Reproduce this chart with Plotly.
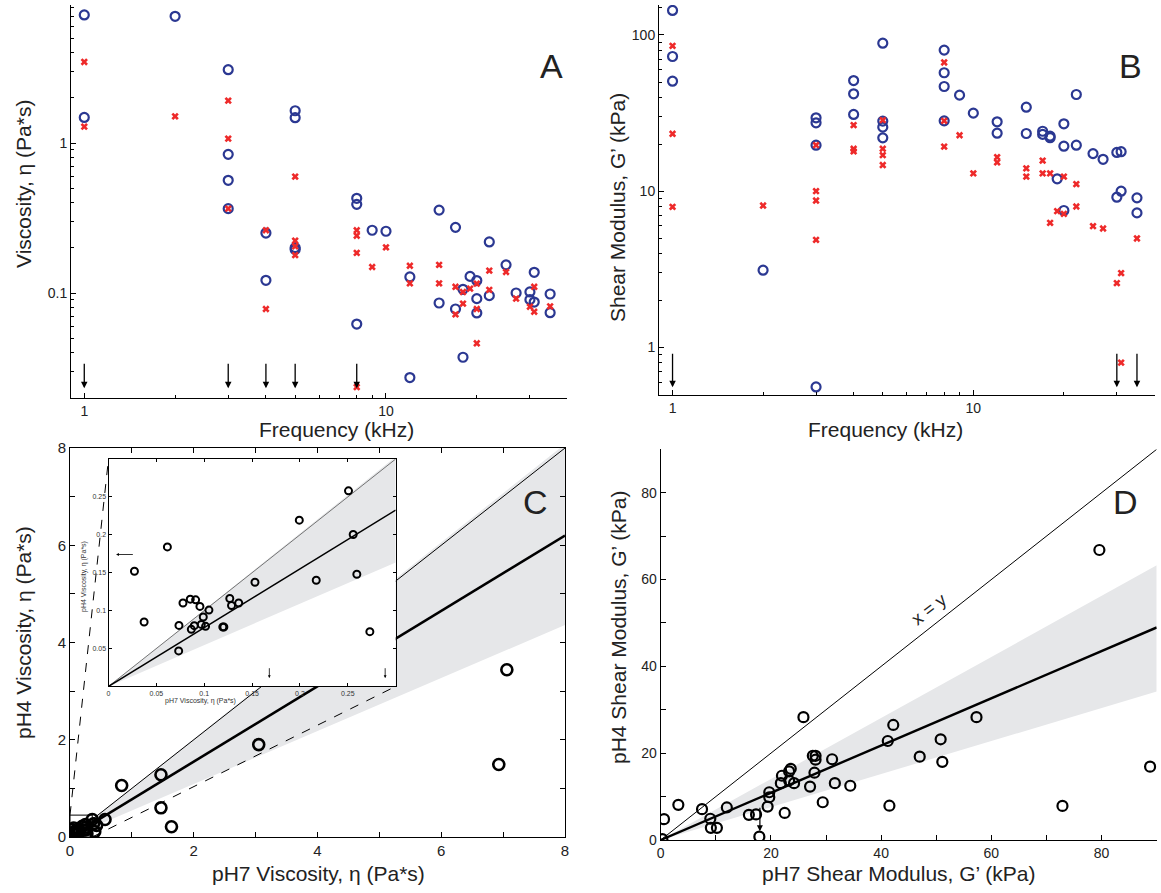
import numpy as np
import plotly.graph_objects as go

# ---------------- Panel A : viscosity vs frequency ----------------
freqA_ph7 = [1, 1, 2, 3, 3, 3, 3, 4, 4, 5, 5, 5, 5, 8, 8, 8, 9, 10, 12, 12, 15, 15, 17, 17, 18, 18, 19,
             20, 20, 20, 22, 22, 25, 27, 30, 30, 31, 31, 35, 35]
viscA_ph7 = [7.14, 1.48, 6.99, 3.08, 0.84, 0.564, 0.365, 0.251, 0.1215, 1.64, 1.475, 0.2005, 0.195,
             0.428, 0.39, 0.0621, 0.262, 0.258, 0.128, 0.0273, 0.357, 0.0858, 0.274, 0.0782, 0.1058,
             0.0373, 0.129, 0.121, 0.0917, 0.0736, 0.219, 0.096, 0.154, 0.1, 0.1016, 0.0903, 0.1374,
             0.087, 0.0985, 0.0739]
freqA_ph4 = [1, 1, 2, 3, 3, 3, 4, 4, 5, 5, 5, 5, 8, 8, 8, 8, 9, 10, 12, 12, 15, 15, 17, 17, 18, 18, 19,
             20, 20, 20, 22, 22, 25, 27, 30, 31, 31, 35]
viscA_ph4 = [3.47, 1.285, 1.506, 1.915, 1.069, 0.365, 0.262, 0.0782, 0.597, 0.2234, 0.2048, 0.179,
             0.262, 0.241, 0.185, 0.0236, 0.149, 0.2015, 0.152, 0.116, 0.154, 0.116, 0.110, 0.0721,
             0.1016, 0.085, 0.107, 0.1154, 0.0782, 0.0462, 0.141, 0.105, 0.138, 0.0917, 0.081, 0.110,
             0.075, 0.0815]
arrowA_freq = [1, 3, 4, 5, 8]

# ---------------- Panel B : shear modulus vs frequency ----------------
freqB_ph7 = [1, 1, 1, 2, 3, 3, 3, 3, 4, 4, 4, 5, 5, 5, 5, 8, 8, 8, 8, 9, 10, 12, 12, 15, 15, 17, 17,
             18, 18, 19, 20, 20, 20, 22, 22, 25, 27, 30, 30, 31, 31, 35, 35]
gB_ph7 = [143.6, 72.8, 50.6, 3.12, 29.5, 27.4, 19.7, 0.558, 51.1, 42.0, 31.0, 88.6, 28.1, 25.7, 21.95,
          80.0, 57.3, 46.8, 28.2, 41.2, 31.6, 27.8, 23.5, 34.5, 23.4, 24.2, 23.1, 22.5, 22.0, 12.0,
          27.0, 19.4, 7.52, 41.6, 19.7, 17.4, 16.0, 17.7, 9.15, 17.9, 10.0, 9.06, 7.26]
freqB_ph4 = [1, 1, 1, 2, 3, 3, 3, 3, 4, 4, 4, 5, 5, 5, 5, 8, 8, 8, 9, 10, 12, 12, 15, 15, 17, 17, 18,
             18, 19, 20, 20, 22, 22, 25, 27, 30, 31, 31, 35]
gB_ph4 = [85.2, 23.3, 7.94, 8.09, 19.7, 10.0, 8.71, 4.88, 26.5, 18.7, 18.0, 28.5, 18.7, 17.0, 14.7,
          66.7, 28.2, 19.3, 22.8, 13.0, 16.5, 15.3, 14.0, 12.4, 15.7, 13.0, 13.0, 6.27, 7.45, 12.4,
          7.16, 11.1, 7.98, 5.97, 5.77, 2.58, 2.99, 0.798, 4.98]
arrowB_freq = [1, 30, 35]

# ---------------- Panel C : pH4 vs pH7 viscosity ----------------
inset_ph7 = [0.2507, 0.1993, 0.2556, 0.2594, 0.273, 0.217, 0.153, 0.0615, 0.0271, 0.0372, 0.0736,
             0.0733, 0.0778, 0.0854, 0.091, 0.0955, 0.1049, 0.099, 0.0865, 0.0896, 0.0969, 0.1014,
             0.1194, 0.1205, 0.1267, 0.1285, 0.136]
inset_ph4 = [0.258, 0.2193, 0.2004, 0.148, 0.0722, 0.140, 0.1374, 0.184, 0.1519, 0.0849, 0.0805,
             0.0468, 0.110, 0.1151, 0.1142, 0.1055, 0.1007, 0.0915, 0.0753, 0.0801, 0.0818, 0.0792,
             0.0783, 0.0783, 0.116, 0.1068, 0.110]
extra_ph7 = [7.06, 6.93, 3.05, 1.47, 1.47, 0.835, 1.64, 0.566, 0.38, 0.40, 0.43, 0.36]
extra_ph4 = [3.44, 1.49, 1.90, 1.28, 0.60, 1.06, 0.21, 0.36, 0.27, 0.11, 0.24, 0.36]
fitC_slope = 0.775
bandC_slopes = [1.01, 0.545]
insetC_arrows_down_x = [0.168, 0.289]
insetC_arrow_left_y = 0.174
zoom_box = [0.36, 0.45]

# ---------------- Panel D : pH4 vs pH7 shear modulus ----------------
gD_ph7 = [0.3, 0.6, 3.2, 7.5, 9.0, 9.1, 10.2, 12.0, 16.0, 17.3, 17.9, 19.4, 19.7, 19.7, 22.5, 21.8,
          22.0, 23.3, 23.6, 23.3, 24.2, 25.9, 27.1, 27.6, 28.1, 28.1, 27.9, 29.4, 31.1, 31.6, 34.4,
          41.2, 41.5, 42.2, 47.0, 50.8, 51.1, 57.3, 72.9, 79.6, 88.8]
gD_ph4 = [0.2, 4.8, 8.1, 7.1, 4.9, 2.8, 2.8, 7.5, 5.8, 5.9, 0.77, 7.7, 9.85, 11.0, 6.23, 13.1, 14.8,
          15.8, 16.4, 13.7, 13.1, 28.3, 12.3, 19.4, 19.4, 18.5, 15.5, 8.7, 18.6, 13.1, 12.5, 22.8,
          7.9, 26.5, 19.2, 23.2, 18.0, 28.3, 7.85, 66.8, 16.9]
fitD_slope = 0.544
bandD_slopes = [0.703, 0.38]
arrowD_x = 18.0

BLUE = "#2b3892"
RED = "#ee2a2a"
BAND = "#e6e7e9"
FONT = "Liberation Sans, Arial, Helvetica, sans-serif"
W, H = 1161, 893

def px(x):
    return x / W

def py(y):
    return 1 - y / H

fig = go.Figure()

circ_blue = dict(symbol="circle-open", size=9, color=BLUE, line=dict(width=2.2, color=BLUE))
cross_red = dict(symbol="x", size=6.5, color=RED, line=dict(width=0))

# A
fig.add_trace(go.Scatter(x=freqA_ph7, y=viscA_ph7, mode="markers", marker=circ_blue,
                         xaxis="x", yaxis="y", showlegend=False))
fig.add_trace(go.Scatter(x=freqA_ph4, y=viscA_ph4, mode="markers", marker=cross_red,
                         xaxis="x", yaxis="y", showlegend=False))
# B
fig.add_trace(go.Scatter(x=freqB_ph7, y=gB_ph7, mode="markers", marker=circ_blue,
                         xaxis="x2", yaxis="y2", showlegend=False))
fig.add_trace(go.Scatter(x=freqB_ph4, y=gB_ph4, mode="markers", marker=cross_red,
                         xaxis="x2", yaxis="y2", showlegend=False))

# C main
xC = np.array([0.0, 8.0])
fig.add_trace(go.Scatter(x=[0, 8, 8, 0], y=[0, bandC_slopes[0] * 8, bandC_slopes[1] * 8, 0],
                         fill="toself", fillcolor=BAND, line=dict(width=0), mode="lines",
                         xaxis="x3", yaxis="y3", showlegend=False, hoverinfo="skip"))
fig.add_trace(go.Scatter(x=xC, y=xC, mode="lines", line=dict(color="black", width=1),
                         xaxis="x3", yaxis="y3", showlegend=False))
fig.add_trace(go.Scatter(x=xC, y=fitC_slope * xC, mode="lines", line=dict(color="black", width=2.6),
                         xaxis="x3", yaxis="y3", showlegend=False))
fig.add_trace(go.Scatter(x=inset_ph7 + extra_ph7, y=inset_ph4 + extra_ph4, mode="markers",
                         marker=dict(symbol="circle-open", size=11, color="black",
                                     line=dict(width=2.6, color="black")),
                         xaxis="x3", yaxis="y3", showlegend=False))
# zoom box
fig.add_trace(go.Scatter(x=[0, zoom_box[0], zoom_box[0], 0, 0], y=[0, 0, zoom_box[1], zoom_box[1], 0],
                         mode="lines", line=dict(color="black", width=1),
                         xaxis="x3", yaxis="y3", showlegend=False))

# Inset domain
ins_x = [px(108.5), px(395.7)]
ins_y = [py(686.4), py(459)]
def to_c(sx, sy):
    return (sx - 70) / (565 - 70) * 8, (837 - sy) / (837 - 448) * 8
tlx, tly = to_c(108.5, 459)
brx, bry = to_c(395.7, 686.4)
fig.add_trace(go.Scatter(x=[0, tlx], y=[zoom_box[1], tly], mode="lines",
                         line=dict(color="black", width=1, dash="dash"),
                         xaxis="x3", yaxis="y3", showlegend=False))
fig.add_trace(go.Scatter(x=[zoom_box[0], brx], y=[0, bry], mode="lines",
                         line=dict(color="black", width=1, dash="dash"),
                         xaxis="x3", yaxis="y3", showlegend=False))

# D
xD = np.array([0.0, 90.0])
fig.add_trace(go.Scatter(x=[0, 90, 90, 0], y=[0, bandD_slopes[0] * 90, bandD_slopes[1] * 90, 0],
                         fill="toself", fillcolor=BAND, line=dict(width=0), mode="lines",
                         xaxis="x4", yaxis="y4", showlegend=False, hoverinfo="skip"))
fig.add_trace(go.Scatter(x=xD, y=xD, mode="lines", line=dict(color="black", width=1),
                         xaxis="x4", yaxis="y4", showlegend=False))
fig.add_trace(go.Scatter(x=xD, y=fitD_slope * xD, mode="lines", line=dict(color="black", width=2.4),
                         xaxis="x4", yaxis="y4", showlegend=False))
fig.add_trace(go.Scatter(x=gD_ph7, y=gD_ph4, mode="markers",
                         marker=dict(symbol="circle-open", size=10, color="black",
                                     line=dict(width=2.2, color="black")),
                         xaxis="x4", yaxis="y4", showlegend=False))

# Inset traces
xI = np.array([0.0, 0.3])
fig.add_trace(go.Scatter(x=[0, 0.3, 0.3, 0], y=[0, bandC_slopes[0] * 0.3, bandC_slopes[1] * 0.3, 0],
                         fill="toself", fillcolor=BAND, line=dict(width=0), mode="lines",
                         xaxis="x5", yaxis="y5", showlegend=False, hoverinfo="skip"))
fig.add_trace(go.Scatter(x=xI, y=xI, mode="lines", line=dict(color="#555555", width=0.8),
                         xaxis="x5", yaxis="y5", showlegend=False))
fig.add_trace(go.Scatter(x=xI, y=fitC_slope * xI, mode="lines", line=dict(color="black", width=1.5),
                         xaxis="x5", yaxis="y5", showlegend=False))
fig.add_trace(go.Scatter(x=inset_ph7, y=inset_ph4, mode="markers",
                         marker=dict(symbol="circle-open", size=7, color="black",
                                     line=dict(width=2, color="black")),
                         xaxis="x5", yaxis="y5", showlegend=False))

tickfont = dict(family=FONT, size=14, color="#222222")

def lin_axis(domain, rng, major, minor, anchor, mirror=False, font=tickfont, ticklen=5):
    return dict(domain=domain, range=rng, anchor=anchor, showgrid=False, zeroline=False,
                automargin=False,
                showline=True, linecolor="black", linewidth=1, mirror=mirror,
                ticks="inside", ticklen=ticklen, tickcolor="black", tickmode="array",
                tickvals=major, ticktext=[("%g" % v) for v in major], tickfont=font,
                minor=dict(ticks="inside", ticklen=ticklen, tickcolor="black", tickmode="array",
                           tickvals=minor, showgrid=False))

def log_axis(domain, rng, major, labels, minor, anchor):
    return dict(domain=domain, type="log", range=rng, anchor=anchor, showgrid=False,
                zeroline=False, showline=True, linecolor="black", linewidth=1, automargin=False,
                ticks="inside", ticklen=5, tickcolor="black", tickmode="array",
                tickvals=major, ticktext=labels, tickfont=tickfont,
                minor=dict(ticks="inside", ticklen=3, tickcolor="black", tickmode="array",
                           tickvals=minor, showgrid=False))

minor_freq = [2, 3, 4, 5, 6, 7, 8, 9, 20, 30]
minorA_y = [0.02, 0.03, 0.04, 0.05, 0.06, 0.07, 0.08, 0.09, 0.2, 0.3, 0.4, 0.5, 0.6, 0.7, 0.8, 0.9,
            2, 3, 4, 5, 6, 7, 8]
minorB_y = [0.5, 0.6, 0.7, 0.8, 0.9, 2, 3, 4, 5, 6, 7, 8, 9, 20, 30, 40, 50, 60, 70, 80, 90, 150]

inset_font = dict(family=FONT, size=7, color="#333333")

fig.update_layout(
    width=W, height=H, margin=dict(l=0, r=0, t=0, b=0, autoexpand=False),
    paper_bgcolor="white", plot_bgcolor="white", showlegend=False,
    xaxis=log_axis([px(71), px(567)], [-0.044, 1.6], [1, 10], ["1", "10"], minor_freq, "y"),
    yaxis=log_axis([py(398), py(5)], [-1.70, 0.92], [0.1, 1], ["0.1", "1"], minorA_y, "x"),
    xaxis2=log_axis([px(659), px(1155)], [-0.045, 1.604], [1, 10], ["1", "10"], minor_freq, "y2"),
    yaxis2=log_axis([py(395), py(5)], [-0.305, 2.192], [1, 10, 100], ["1", "10", "100"], minorB_y, "x2"),
    xaxis3=lin_axis([px(70), px(565)], [0, 8], [0, 2, 4, 6, 8], [1, 3, 5, 7], "y3", mirror="allticks",
                    font=dict(family=FONT, size=15, color="#222222")),
    yaxis3=lin_axis([py(837), py(448)], [0, 8], [0, 2, 4, 6, 8], [1, 3, 5, 7], "x3", mirror="allticks",
                    font=dict(family=FONT, size=15, color="#222222")),
    xaxis4=lin_axis([px(660.7), px(1156.7)], [0, 90], [0, 20, 40, 60, 80], [10, 30, 50, 70, 90], "y4"),
    yaxis4=lin_axis([py(840), py(449.3)], [0, 90], [0, 20, 40, 60, 80], [10, 30, 50, 70, 90], "x4"),
    xaxis5=lin_axis(ins_x, [0, 0.3], [0, 0.05, 0.1, 0.15, 0.2, 0.25], [], "y5", mirror="allticks",
                    font=inset_font, ticklen=3),
    yaxis5=lin_axis(ins_y, [0, 0.3], [0.05, 0.1, 0.15, 0.2, 0.25], [], "x5", mirror="allticks",
                    font=inset_font, ticklen=3),
)
fig.layout.xaxis5.ticklabelstandoff = 0
fig.layout.yaxis5.ticklabelstandoff = 0

ann = []
title_font = dict(family=FONT, size=21, color="#222222")
def title(text, x, y, angle=0, font=title_font):
    ann.append(dict(text=text, x=px(x), y=py(y), xref="paper", yref="paper", showarrow=False,
                    textangle=angle, font=font, xanchor="center", yanchor="middle"))

title("Viscosity, η (Pa*s)", 23, 184, -90)
title("Frequency (kHz)", 336, 430)
title("Shear Modulus, G’ (kPa)", 617, 208, -90)
title("Frequency (kHz)", 885, 430)
title("pH4 Viscosity, η (Pa*s)", 23, 633, -90)
title("pH7 Viscosity, η (Pa*s)", 318, 873)
title("pH4 Shear Modulus, G’ (kPa)", 618, 627, -90)
title("pH7 Shear Modulus, G’ (kPa)", 899, 873)
title("pH7 Viscosity, η (Pa*s)", 200, 701, 0, inset_font)
title("pH4 Viscosity, η (Pa*s)", 84, 577, -90, inset_font)

letter_font = dict(family=FONT, size=34, color="#222222")
for t, x, y in [("A", 551, 66), ("B", 1130, 66), ("C", 535, 502), ("D", 1125, 502)]:
    title(t, x, y, 0, letter_font)

# x = y label in D
ann.append(dict(text="x = y", x=48.8, y=53.1, xref="x4", yref="y4", showarrow=False,
                textangle=-38, font=dict(family=FONT, size=18, color="#222222")))

def arrow(xref, yref, x, y, ax, ay, width=1.3, size=1.0):
    ann.append(dict(text="", x=x, y=y, ax=ax, ay=ay, xref=xref, yref=yref, axref=xref, ayref=yref,
                    showarrow=True, arrowhead=2, arrowsize=size, arrowwidth=width,
                    arrowcolor="black"))

for f in arrowA_freq:
    lf = np.log10(f)
    arrow("x", "y", lf, np.log10(0.0232), lf, np.log10(0.0345))
for f in arrowB_freq:
    lf = np.log10(f)
    arrow("x2", "y2", lf, np.log10(0.555), lf, np.log10(0.93))
arrow("x4", "y4", arrowD_x, 2.0, arrowD_x, 7.8, 1.2)
for xa in insetC_arrows_down_x:
    arrow("x5", "y5", xa, 0.011, xa, 0.026, 0.8, 0.7)
arrow("x5", "y5", 0.008, insetC_arrow_left_y, 0.027, insetC_arrow_left_y, 0.8, 0.7)

fig.update_layout(annotations=ann)
fig.write_html("out.html", config={"displayModeBar": False},
               post_script="document.body.style.margin='0';document.body.style.overflow='hidden';")
